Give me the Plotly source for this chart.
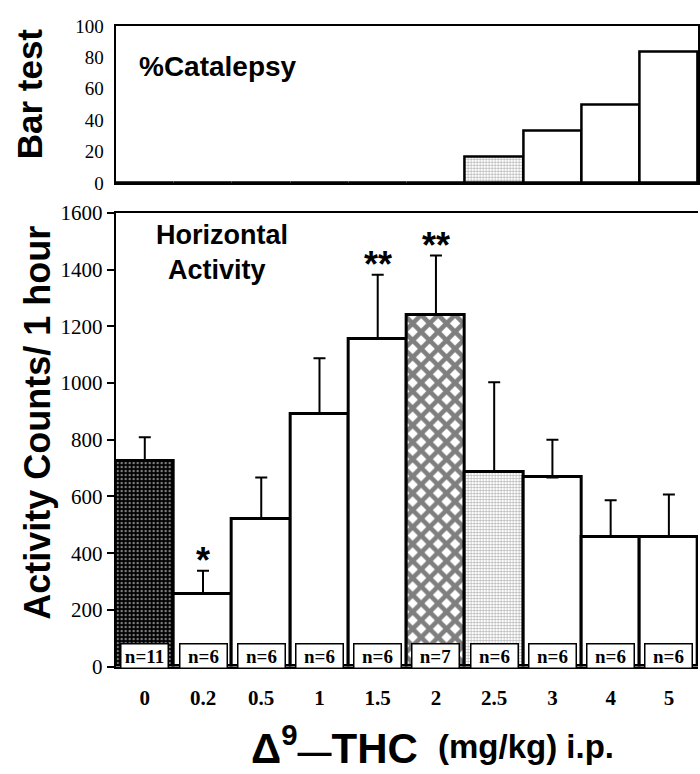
import plotly.graph_objects as go

# ---- data ----
doses = ["0", "0.2", "0.5", "1", "1.5", "2", "2.5", "3", "4", "5"]
catalepsy_pct = [0, 0, 0, 0, 0, 0, 16.7, 33.3, 50, 83.3]
activity_mean = [726, 256, 521, 892, 1157, 1241, 687, 667, 458, 458]
activity_sem = [83, 82, 146, 196, 225, 209, 316, 133, 129, 149]
n_sizes = [11, 6, 6, 6, 6, 7, 6, 6, 6, 6]
signif = ["", "*", "", "", "**", "**", "", "", "", ""]

# ---- styles ----
W, H = 700, 774
SANS = "Liberation Sans"
SERIF = "Liberation Serif"

pat_shape = [".", "", "", "", "", "x", "+", "", "", ""]
pat_fg = ["white", "black", "black", "black", "black", "black", "#555555", "black", "black", "black"]
pat_bg = ["black", "white", "white", "white", "white", "white", "white", "white", "white", "white"]
pat_size = [4, 8, 8, 8, 8, 12, 3, 8, 8, 8]
pat_sol = [0.3, 0.3, 0.3, 0.3, 0.3, 0.62, 0.35, 0.3, 0.3, 0.3]


def px_x(p):
    return p / W


def px_y(p):
    return 1 - p / H


fig = go.Figure()

fig.add_trace(go.Bar(
    x=doses, y=catalepsy_pct, xaxis="x", yaxis="y",
    marker=dict(color="white", line=dict(color="black", width=2.5),
                pattern=dict(shape=pat_shape, fgcolor=pat_fg, bgcolor=pat_bg,
                             size=pat_size, solidity=pat_sol)),
    showlegend=False, hoverinfo="skip",
))

fig.add_trace(go.Bar(
    x=doses, y=activity_mean, xaxis="x2", yaxis="y2",
    marker=dict(color="white", line=dict(color="black", width=3),
                pattern=dict(shape=pat_shape, fgcolor=pat_fg, bgcolor=pat_bg,
                             size=pat_size, solidity=pat_sol)),
    error_y=dict(type="data", symmetric=False, array=activity_sem,
                 arrayminus=[0] * len(activity_sem),
                 color="black", thickness=2, width=6),
    showlegend=False, hoverinfo="skip",
))

x_dom = [px_x(116), 1.0]
axis_common = dict(showline=True, linecolor="black", linewidth=2, showgrid=False,
                   zeroline=False)

fig.update_layout(
    width=W, height=H,
    margin=dict(l=0, r=0, t=0, b=0),
    paper_bgcolor="white", plot_bgcolor="white",
    bargap=0,
    xaxis=dict(domain=x_dom, anchor="y", type="category", range=[-0.5, 9.5],
               showticklabels=False, ticks="", mirror=True, **axis_common),
    yaxis=dict(domain=[px_y(176.5), px_y(14.3)], anchor="x", range=[0, 100],
               tickvals=[0, 20, 40, 60, 80, 100], ticks="outside", ticklen=6,
               tickcolor="rgba(0,0,0,0)", mirror=True,
               tickfont=dict(family=SERIF, size=19, color="black"), **axis_common),
    xaxis2=dict(domain=x_dom, anchor="y2", type="category", range=[-0.5, 9.5],
                tickvals=doses, ticktext=["<b>%s</b>" % d for d in doses],
                ticks="outside", ticklen=11, tickcolor="rgba(0,0,0,0)",
                tickfont=dict(family=SERIF, size=21, color="black"),
                mirror=True, **axis_common),
    yaxis2=dict(domain=[px_y(675.5), px_y(207.5)], anchor="x2", range=[0, 1600],
                tickvals=list(range(0, 1601, 200)), ticks="outside", ticklen=7,
                tickwidth=2, tickcolor="black",
                tickfont=dict(family=SERIF, size=21, color="black"), **axis_common),
)

ann = []
# panel labels
ann.append(dict(text="<b>%Catalepsy</b>", x=px_x(137), y=px_y(56), xref="paper", yref="paper",
                xanchor="left", yanchor="middle", showarrow=False,
                font=dict(family=SANS, size=28, color="black")))
ann.append(dict(text="<b>Horizontal</b>", x=px_x(223), y=px_y(230), xref="paper", yref="paper",
                xanchor="center", yanchor="middle", showarrow=False,
                font=dict(family=SANS, size=27, color="black")))
ann.append(dict(text="<b>Activity</b>", x=px_x(218), y=px_y(266), xref="paper", yref="paper",
                xanchor="center", yanchor="middle", showarrow=False,
                font=dict(family=SANS, size=27, color="black")))
# axis titles
ann.append(dict(text="<b>Bar test</b>", x=px_x(29), y=px_y(84), xref="paper", yref="paper",
                xanchor="center", yanchor="middle", textangle=-90, showarrow=False,
                font=dict(family=SANS, size=35, color="black")))
ann.append(dict(text="<b>Activity Counts/ 1 hour</b>", x=px_x(38), y=px_y(424), xref="paper", yref="paper",
                xanchor="center", yanchor="middle", textangle=-90, showarrow=False,
                font=dict(family=SANS, size=36, color="black")))
ann.append(dict(text="<b>Δ<sup>9</sup><span style='font-size:34px'>—</span>THC</b>",
                x=px_x(421), y=px_y(756), xref="paper", yref="paper",
                xanchor="right", yanchor="middle", showarrow=False,
                font=dict(family=SANS, size=42, color="black")))
ann.append(dict(text="<b>(mg/kg) i.p.</b>", x=px_x(437), y=px_y(758), xref="paper", yref="paper",
                xanchor="left", yanchor="middle", showarrow=False,
                font=dict(family=SANS, size=33, color="black")))

# n boxes and significance stars (category positions by index)
for i, (n, m, s, sg) in enumerate(zip(n_sizes, activity_mean, activity_sem, signif)):
    ann.append(dict(text="<b>n=%d</b>" % n, x=i, y=0, xref="x2", yref="y2",
                    xanchor="center", yanchor="bottom", yshift=-2, showarrow=False,
                    width=44, height=21, borderpad=1, bgcolor="white",
                    bordercolor="black", borderwidth=1.5,
                    font=dict(family=SERIF, size=19, color="black")))
    if sg:
        ann.append(dict(text="<b>%s</b>" % sg, x=i, y=m + s, xref="x2", yref="y2",
                        xanchor="center", yanchor="bottom", yshift=-12, showarrow=False,
                        font=dict(family=SANS, size=36, color="black")))

fig.update_layout(annotations=ann)
fig.write_html("out.html")
